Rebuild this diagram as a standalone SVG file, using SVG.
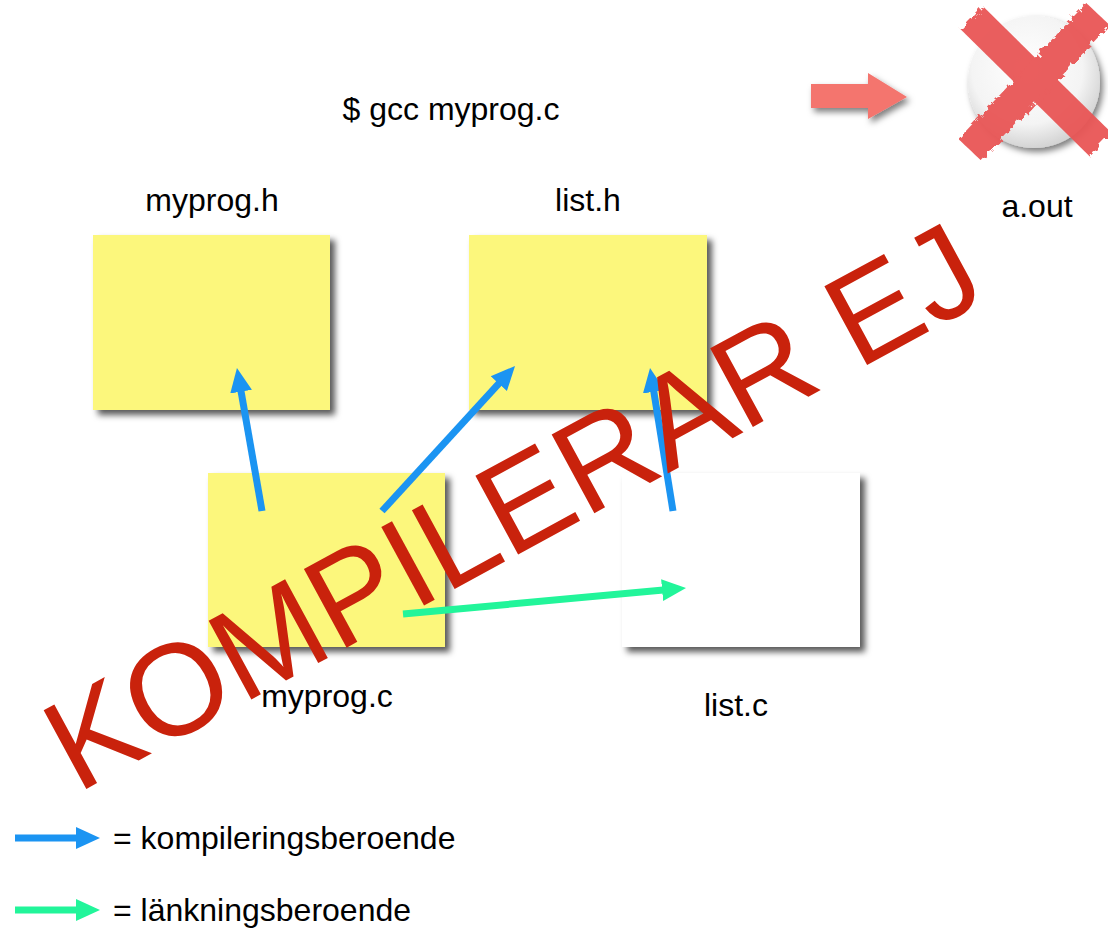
<svg xmlns="http://www.w3.org/2000/svg" width="1108" height="929" viewBox="0 0 1108 929">
<defs>
<style>
.lbl{font-family:"Liberation Sans",Arial,sans-serif;font-size:32px;fill:#000}
.box{filter:url(#sh)}
.blue{stroke:#1b94f2;stroke-width:7;fill:none}
.green{stroke:#22f59a;stroke-width:7;fill:none}
.stamp{font-family:"Liberation Sans",Arial,sans-serif;font-size:130px;fill:#c9220c}
</style>
<filter id="sh" x="-10%" y="-10%" width="130%" height="130%">
<feDropShadow dx="5" dy="5" stdDeviation="3" flood-color="#000" flood-opacity="0.65"/>
</filter>
<filter id="sh2" x="-20%" y="-20%" width="150%" height="150%">
<feDropShadow dx="3" dy="4" stdDeviation="3" flood-color="#000" flood-opacity="0.5"/>
</filter>
<filter id="rough" x="-10%" y="-10%" width="120%" height="120%">
<feTurbulence type="fractalNoise" baseFrequency="0.15" numOctaves="2" seed="3" result="n"/>
<feDisplacementMap in="SourceGraphic" in2="n" scale="9"/>
</filter>
<radialGradient id="cg" cx="45%" cy="40%" r="60%">
<stop offset="0" stop-color="#ffffff"/>
<stop offset="0.7" stop-color="#f4f4f4"/>
<stop offset="1" stop-color="#d4d4d4"/>
</radialGradient>
<marker id="hb" markerUnits="userSpaceOnUse" markerWidth="26" markerHeight="24" refX="4" refY="12" orient="auto">
<path d="M0,1 L24,12 L0,23 z" fill="#1b94f2"/>
</marker>
<marker id="hg" markerUnits="userSpaceOnUse" markerWidth="26" markerHeight="24" refX="4" refY="12" orient="auto">
<path d="M0,1 L24,12 L0,23 z" fill="#22f59a"/>
</marker>
</defs>
<rect width="1108" height="929" fill="#fff"/>

<text class="lbl" x="451" y="120" text-anchor="middle">$ gcc myprog.c</text>

<g id="run-arrow">
<polygon points="811,84 868,84 868,73 907,97 868,119 868,108 811,108" fill="#f4746e" filter="url(#sh2)"/>
</g>

<g id="aout">
<circle cx="1034" cy="82" r="66" fill="url(#cg)" filter="url(#sh2)"/>
<g filter="url(#rough)" stroke="#e95656" stroke-width="32" stroke-linecap="butt" opacity="0.95">
<line x1="972" y1="18" x2="1100" y2="144"/>
<line x1="1098" y1="14" x2="970" y2="150"/>
</g>
<text class="lbl" x="1037" y="217" text-anchor="middle">a.out</text>
</g>

<g id="myprog_h">
<text class="lbl" x="212" y="211" text-anchor="middle">myprog.h</text>
<rect class="box" x="93" y="235" width="237" height="175" fill="#fcf77c"/>
</g>
<g id="list_h">
<text class="lbl" x="588" y="211" text-anchor="middle">list.h</text>
<rect class="box" x="469" y="235" width="238" height="175" fill="#fcf77c"/>
</g>
<g id="myprog_c">
<rect class="box" x="208" y="473" width="237" height="174" fill="#fcf77c"/>
<text class="lbl" x="327" y="707" text-anchor="middle">myprog.c</text>
</g>
<g id="list_c">
<rect class="box" x="622" y="473" width="238" height="174" fill="#fff"/>
<text class="lbl" x="736" y="716" text-anchor="middle">list.c</text>
</g>

<g id="connectors">
<line class="blue" x1="262" y1="511" x2="240.4" y2="387.7" marker-end="url(#hb)"/>
<line class="blue" x1="382" y1="511" x2="501.5" y2="380.7" marker-end="url(#hb)"/>
<line class="blue" x1="673" y1="511" x2="653.2" y2="387.8" marker-end="url(#hb)"/>
<line class="green" x1="403" y1="614" x2="666.1" y2="589.8" marker-end="url(#hg)"/>
</g>

<g id="legend">
<line class="blue" x1="15" y1="838" x2="80" y2="838" marker-end="url(#hb)"/>
<text class="lbl" x="113" y="849">= kompileringsberoende</text>
<line class="green" x1="15" y1="910" x2="80" y2="910" marker-end="url(#hg)"/>
<text class="lbl" x="113" y="921">= länkningsberoende</text>
</g>

<text class="stamp" transform="translate(77,794) rotate(-28.5)">KOMPILERAR EJ</text>
</svg>
